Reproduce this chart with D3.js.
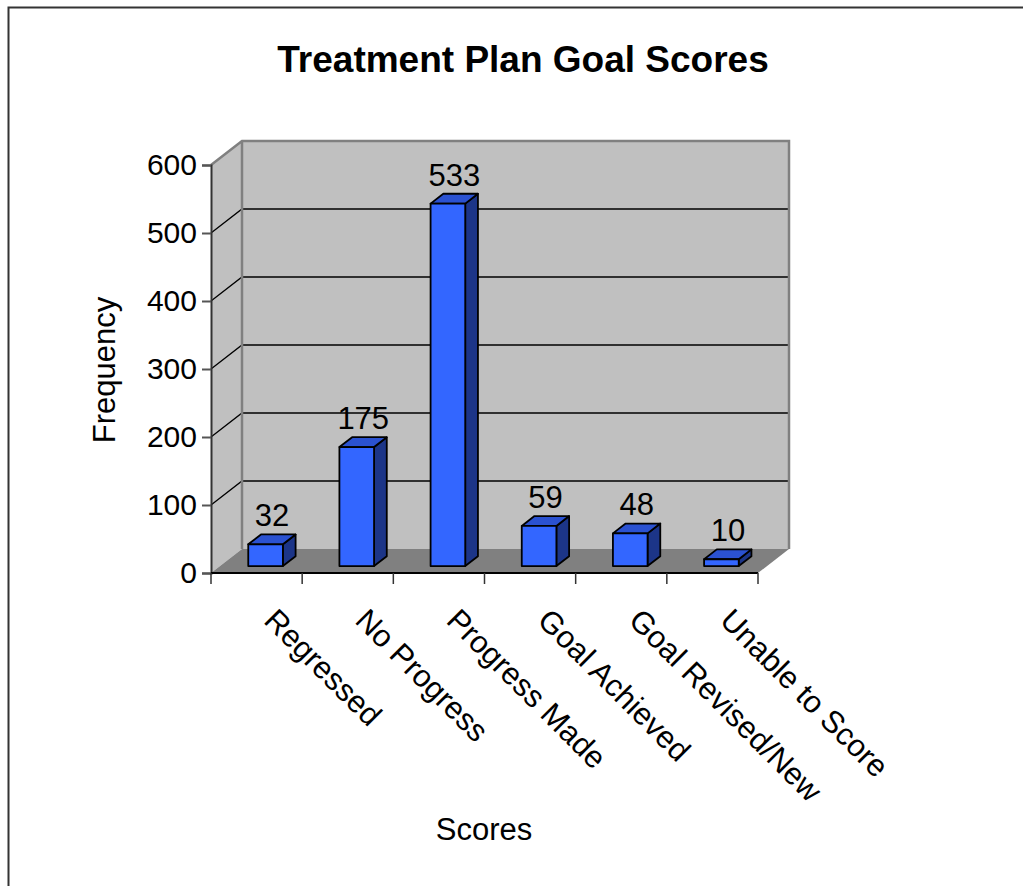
<!DOCTYPE html>
<html>
<head>
<meta charset="utf-8">
<script src="https://cdn.jsdelivr.net/npm/d3@7"></script>
<style>
  body { margin: 0; background: #fff; }
  text { font-family: "Liberation Sans", Arial, sans-serif; fill: #000; }
</style>
</head>
<body>
<div id="chart"></div>
<script>
const categories = ['Regressed', 'No Progress', 'Progress Made', 'Goal Achieved', 'Goal Revised/New', 'Unable to Score'];
const frequencies = [32, 175, 533, 59, 48, 10];
const yTicks = [0, 100, 200, 300, 400, 500, 600];

const width = 1023;
const height = 886;

// depth of the 3d box (screen offset of the back wall)
const DX = 31;
const DY = 24;
const barFront = 0.29;
const barBack = 0.70;
const barRatio = 0.38;
const labelSize = '31px';

const x = d3.scaleBand().domain(categories).range([211, 758]);
const y = d3.scaleLinear().domain([0, 600]).range([573, 165]);

function proj(px, v, z) {
    return [px + z * DX, y(v) - z * DY];
}

function poly(pts) {
    return 'M' + pts.map(p => p.join(',')).join('L') + 'Z';
}

const svg = d3.select('#chart')
    .append('svg')
    .attr('width', width)
    .attr('height', height)
    .attr('viewBox', `0,0,${width},${height}`);

// outer frame
svg.append('path')
    .attr('d', `M8.5,${height}L8.5,7.5L${width},7.5`)
    .style('fill', 'none')
    .style('stroke', '#333')
    .style('stroke-width', 2);

const x0 = x.range()[0], x1 = x.range()[1];
const vMax = 600;

// back wall
svg.append('path')
    .attr('d', poly([proj(x0, 0, 1), proj(x0, vMax, 1), proj(x1, vMax, 1), proj(x1, 0, 1)]))
    .style('fill', '#c0c0c0');

// side wall
svg.append('path')
    .attr('d', poly([proj(x0, 0, 0), proj(x0, vMax, 0), proj(x0, vMax, 1), proj(x0, 0, 1)]))
    .style('fill', '#c0c0c0');

// floor
svg.append('path')
    .attr('d', poly([proj(x0, 0, 0), proj(x1, 0, 0), proj(x1, 0, 1), proj(x0, 0, 1)]))
    .style('fill', '#808080');

// gridlines
const grid = svg.append('g').style('stroke', '#000').style('stroke-width', 1.3).style('fill', 'none');
yTicks.filter(t => t > 0 && t < vMax).forEach(t => {
    grid.append('path')
        .attr('d', `M${proj(x0, t, 0)}L${proj(x0, t, 1)}L${proj(x1, t, 1)}`);
});

// wall edges
svg.append('path')
    .attr('d', `M${proj(x0, vMax, 0)}L${proj(x0, vMax, 1)}L${proj(x1, vMax, 1)}L${proj(x1, 0, 1)}M${proj(x0, vMax, 1)}L${proj(x0, 0, 1)}`)
    .style('fill', 'none')
    .style('stroke', '#808080')
    .style('stroke-width', 2.5);

// bars
const bars = svg.append('g')
    .style('stroke', '#000')
    .style('stroke-width', 1.8)
    .style('stroke-linejoin', 'round');

categories.forEach((c, i) => {
    const v = frequencies[i];
    const cx = x(c) + x.bandwidth() / 2;
    const w = x.bandwidth() * barRatio;
    const l = cx - w / 2, r = cx + w / 2;
    // side face
    bars.append('path')
        .attr('d', poly([proj(r, 0, barFront), proj(r, v, barFront), proj(r, v, barBack), proj(r, 0, barBack)]))
        .style('fill', '#1c3588');
    // top face
    bars.append('path')
        .attr('d', poly([proj(l, v, barFront), proj(r, v, barFront), proj(r, v, barBack), proj(l, v, barBack)]))
        .style('fill', '#2b52d1');
    // front face
    bars.append('path')
        .attr('d', poly([proj(l, 0, barFront), proj(l, v, barFront), proj(r, v, barFront), proj(r, 0, barFront)]))
        .style('fill', '#3366ff');

    // value label
    const p = proj(cx, v, 0.5);
    svg.append('text')
        .attr('x', p[0])
        .attr('y', p[1] - 13)
        .attr('text-anchor', 'middle')
        .style('font-size', labelSize)
        .text(v);
});

// y axis
const yAxis = svg.append('g')
    .attr('transform', `translate(${x0},0)`)
    .call(d3.axisLeft(y).tickValues(yTicks).tickSize(9).tickPadding(5));
yAxis.select('.domain').style('stroke', '#333').style('stroke-width', 2);
yAxis.selectAll('.tick line').style('stroke', '#555').style('stroke-width', 2);
yAxis.selectAll('.tick text')
    .style('font-size', '30px')
    .style('font-family', '"Liberation Sans", Arial, sans-serif')
    .attr('fill', '#000');

// x axis
svg.append('line')
    .attr('x1', x0).attr('x2', x1)
    .attr('y1', y(0)).attr('y2', y(0))
    .style('stroke', '#000').style('stroke-width', 2);
const xTicks = categories.map(c => x(c)).concat([x1]);
svg.append('g').selectAll('line')
    .data(xTicks)
    .join('line')
    .attr('x1', d => d).attr('x2', d => d)
    .attr('y1', y(0)).attr('y2', y(0) + 11)
    .style('stroke', '#333').style('stroke-width', 1.5);

// category labels
svg.append('g').selectAll('text')
    .data(categories)
    .join('text')
    .attr('transform', d => `translate(${x(d) + x.bandwidth() / 2 + 6},622) rotate(45)`)
    .style('font-size', labelSize)
    .text(d => d);

// titles
svg.append('text')
    .attr('x', 523)
    .attr('y', 72)
    .attr('text-anchor', 'middle')
    .style('font-size', '37px')
    .style('font-weight', 'bold')
    .text('Treatment Plan Goal Scores');

svg.append('text')
    .attr('transform', 'translate(115,370) rotate(-90)')
    .attr('text-anchor', 'middle')
    .style('font-size', labelSize)
    .text('Frequency');

svg.append('text')
    .attr('x', 484)
    .attr('y', 840)
    .attr('text-anchor', 'middle')
    .style('font-size', labelSize)
    .text('Scores');
</script>
</body>
</html>
